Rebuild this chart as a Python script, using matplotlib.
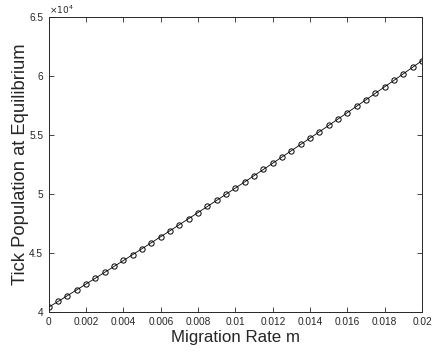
import matplotlib
matplotlib.use("Agg")
import matplotlib.pyplot as plt

plt.rcParams['font.family'] = ['Liberation Sans', 'DejaVu Sans']

# migration rate m and tick population at equilibrium
m = [i * 0.0005 for i in range(41)]
pop = [40400, 40888, 41379, 41870, 42364, 42859, 43357, 43855, 44356, 44858,
       45363, 45868, 46376, 46885, 47397, 47909, 48424, 48940, 49459, 49978,
       50500, 51023, 51549, 52075, 52604, 53134, 53667, 54200, 54736, 55273,
       55813, 56353, 56896, 57440, 57987, 58534, 59084, 59635, 60189, 60743,
       61300]

xticks = [0, 0.002, 0.004, 0.006, 0.008, 0.01, 0.012, 0.014, 0.016, 0.018, 0.02]
xticklabels = ['0', '0.002', '0.004', '0.006', '0.008', '0.01', '0.012',
               '0.014', '0.016', '0.018', '0.02']
yticks = [40000, 45000, 50000, 55000, 60000, 65000]
yticklabels = ['4', '4.5', '5', '5.5', '6', '6.5']

fig = plt.figure(figsize=(4.32, 3.54), dpi=100)
ax = fig.add_axes([0.113, 0.119, 0.864, 0.833])

ax.plot(m, pop, '-o', color='black', lw=0.6, markersize=3.8,
        markerfacecolor='none', markeredgewidth=0.7)

ax.set_xlim(0, 0.02)
ax.set_ylim(40000, 65000)
ax.set_xticks(xticks)
ax.set_xticklabels(xticklabels)
ax.set_yticks(yticks)
ax.set_yticklabels(yticklabels)
ax.tick_params(direction='in', length=3.5, width=0.6, labelsize=7.3,
               colors='#262626', top=True, right=True, pad=4)
for s in ax.spines.values():
    s.set_linewidth(0.7)
    s.set_color('#262626')

ax.text(0.0, 1.005, r'$\times10^{4}$', transform=ax.transAxes, fontsize=6.5,
        color='#262626', ha='left', va='bottom')

ax.set_xlabel('Migration Rate m', fontsize=12.2, color='#262626', labelpad=2)
ax.set_ylabel('Tick Population at Equilibrium', fontsize=13.2, color='#262626',
              labelpad=0)

fig.savefig('out.png', dpi=100)
